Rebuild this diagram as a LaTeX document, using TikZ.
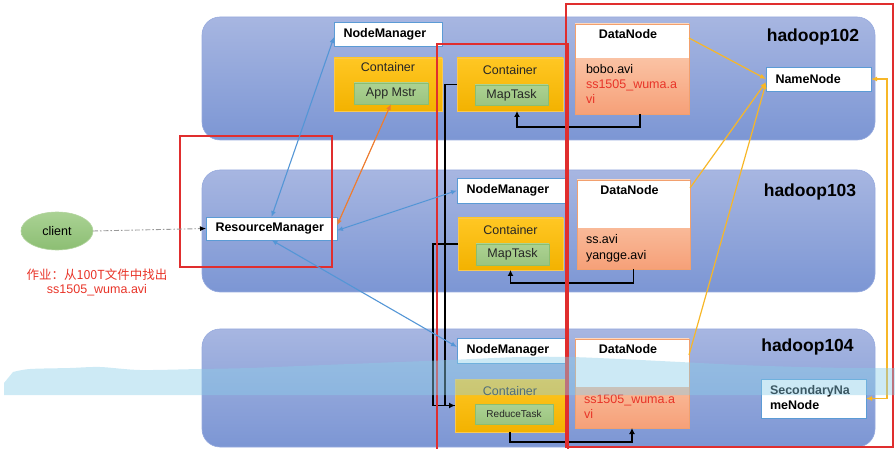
\documentclass[tikz,border=0pt]{standalone}
\usepackage{fontspec}
\setmainfont{Liberation Sans}
\newfontfamily\cjkfont{Noto Sans CJK SC}
\usetikzlibrary{arrows.meta,calc,shapes.geometric}

\definecolor{hostTop}{RGB}{167,182,225}
\definecolor{hostBot}{RGB}{124,150,212}
\definecolor{hostEdge}{RGB}{150,170,222}
\definecolor{boxBlue}{RGB}{91,155,213}
\definecolor{ctTop}{RGB}{255,199,35}
\definecolor{ctBot}{RGB}{243,178,0}
\definecolor{ctEdge}{RGB}{250,200,80}
\definecolor{taskTop}{RGB}{172,210,146}
\definecolor{taskBot}{RGB}{155,196,128}
\definecolor{taskEdge}{RGB}{140,190,110}
\definecolor{dnTop}{RGB}{253,215,190}
\definecolor{dnBot}{RGB}{246,160,120}
\definecolor{dnEdge}{RGB}{242,160,110}
\definecolor{fileRed}{RGB}{232,52,40}
\definecolor{frameRed}{RGB}{224,46,46}
\definecolor{linkBlue}{RGB}{84,150,214}
\definecolor{linkOrange}{RGB}{237,125,49}
\definecolor{linkYellow}{RGB}{247,183,40}
\definecolor{cliTop}{RGB}{170,210,148}
\definecolor{cliBot}{RGB}{140,190,115}
\definecolor{cliEdge}{RGB}{178,212,158}
\definecolor{haze}{RGB}{139,206,232}

\begin{document}
\begin{tikzpicture}[x=1pt,y=-1pt,
  every node/.style={inner sep=0pt, outer sep=0pt},
  txt/.style={font=\fontsize{12.5}{15}\selectfont},
  boldtxt/.style={font=\bfseries\fontsize{12.5}{15}\selectfont},
  hostbox/.style={rounded corners=18pt, top color=hostTop, bottom color=hostBot, draw=hostEdge, line width=0.6pt},
  hostname/.style={font=\bfseries\fontsize{17.5}{20}\selectfont, anchor=base},
  svcbox/.style={draw=boxBlue, fill=white, line width=0.8pt, boldtxt, align=left, inner xsep=9.5pt},
  ctbox/.style={draw=ctEdge, top color=ctTop, bottom color=ctBot, line width=0.6pt},
  cttext/.style={txt, text=black!85},
  taskbox/.style={draw=taskEdge, top color=taskTop, bottom color=taskBot, line width=0.6pt, txt, text=black!85},
  dnbox/.style={top color=dnTop, bottom color=dnBot},
  dnedge/.style={draw=dnEdge, line width=0.8pt},
  filelist/.style={txt, anchor=base west, align=left},
  redframe/.style={draw=frameRed, line width=1.6pt},
  blu/.style={draw=linkBlue, line width=1.1pt, {Latex[length=6pt,width=5pt]}-{Latex[length=6pt,width=5pt]}},
  org/.style={draw=linkOrange, line width=1.2pt, {Latex[length=6pt,width=5pt]}-{Latex[length=6pt,width=5pt]}},
  yel/.style={draw=linkYellow, line width=1.2pt, -{Latex[length=6pt,width=5pt]}},
  blk/.style={draw=black, line width=1.3pt},
  blkarrow/.style={blk, -{Latex[length=6pt,width=6pt]}},
  dashdot/.style={draw=black!40, line width=0.9pt, dash pattern=on 5pt off 2pt on 1.5pt off 2pt,
    -{Latex[length=6pt,width=5pt,color=black]}}
]
\useasboundingbox (0,0) rectangle (895,449);

% hosts
\node[hostbox, minimum width=673pt, minimum height=123pt] (h102) at (538.5,78.5) {};
\node[hostbox, minimum width=673pt, minimum height=122pt] (h103) at (538.5,231) {};
\node[hostbox, minimum width=673pt, minimum height=118pt] (h104) at (538.5,388) {};
\node[hostname] (h102n) at (813,42) {hadoop102};
\node[hostname] (h103n) at (810,197) {hadoop103};
\node[hostname] (h104n) at (807.5,352) {hadoop104};

% hadoop102
\node[svcbox, text width=89pt, minimum height=24pt] (nm102) at (388,34) {NodeManager};
\node[ctbox, minimum width=108pt, minimum height=53pt] (ct102a) at (388,84.5) {};
\node[cttext] (ct102at) at ([yshift=-9pt]ct102a.north) {Container};
\node[taskbox, minimum width=74pt, minimum height=21pt] (am) at (391,93.5) {App Mstr};

\node[ctbox, minimum width=106pt, minimum height=53pt] (ct102b) at (510,84.5) {};
\node[cttext] (ct102bt) at ([yshift=-12pt]ct102b.north) {Container};
\node[taskbox, minimum width=73pt, minimum height=20pt] (mt102) at (511.5,95) {MapTask};

\node[dnbox, minimum width=114pt, minimum height=90pt] (dn102) at (632,69) {};
\fill[white] (dn102.north west) rectangle ([yshift=-34pt]dn102.north east);
\draw[dnedge] (dn102.north west) rectangle (dn102.south east);
\node[boldtxt] (dn102t) at ([xshift=-4pt,yshift=-10.5pt]dn102.north) {DataNode};
% a multi-line node sits on the baseline of its last line
\node[filelist] (dn102f) at (586,104) {bobo.avi\\\textcolor{fileRed}{ss1505\_wuma.a}\\\textcolor{fileRed}{vi}};

\node[svcbox, text width=86pt, minimum height=24pt] (nn) at (818.5,79) {NameNode};

% hadoop103
\node[svcbox, text width=90pt, minimum height=25pt] (nm103) at (511.5,190.5) {NodeManager};
\node[ctbox, minimum width=105pt, minimum height=52pt] (ct103) at (510.5,244) {};
\node[cttext] (ct103t) at ([yshift=-12pt]ct103.north) {Container};
\node[taskbox, minimum width=73pt, minimum height=21pt] (mt103) at (512.5,254.5) {MapTask};

\node[dnbox, minimum width=113pt, minimum height=89pt] (dn103) at (633.5,224.5) {};
\fill[white] (dn103.north west) rectangle ([yshift=-48pt]dn103.north east);
\draw[dnedge] (dn103.north west) rectangle (dn103.south east);
\node[boldtxt] (dn103t) at ([xshift=-4pt,yshift=-10pt]dn103.north) {DataNode};
\node[filelist] (dn103f) at (586,260) {ss.avi\\[1pt]yangge.avi};

% hadoop104
\node[svcbox, text width=90pt, minimum height=25pt] (nm104) at (511.5,350.5) {NodeManager};
\node[ctbox, minimum width=110pt, minimum height=53pt] (ct104) at (510,405.5) {};
\node[cttext] (ct104t) at ([yshift=-12pt]ct104.north) {Container};
\node[taskbox, minimum width=78pt, minimum height=20pt, font=\fontsize{10}{12}\selectfont] (rt) at (514,414) {ReduceTask};

\node[dnbox, minimum width=114pt, minimum height=89pt] (dn104) at (632,383.5) {};
\fill[white] (dn104.north west) rectangle ([yshift=-48pt]dn104.north east);
\draw[dnedge] (dn104.north west) rectangle (dn104.south east);
\node[boldtxt] (dn104t) at ([xshift=-4pt,yshift=-10.5pt]dn104.north) {DataNode};
\node[filelist, text=fileRed] (dn104f) at (584,418.5) {ss1505\_wuma.a\\vi};

\node[draw=boxBlue, fill=white, line width=0.8pt, minimum width=105pt, minimum height=39pt] (snn) at (813.5,398.5) {};
\node[anchor=base west, align=left, font=\bfseries\fontsize{12.5}{14.5}\selectfont] (snnt) at (770,409) {SecondaryNa\\meNode};

% client side
\node[ellipse, draw=cliEdge, line width=0.6pt, top color=cliTop, bottom color=cliBot,
  minimum width=72pt, minimum height=38pt, txt] (cli) at (57,231) {client};
\node[svcbox, text width=112pt, minimum height=23pt] (rm) at (271.5,228.5) {ResourceManager};
\node[txt, text=fileRed] (hw1) at (97,275) {\cjkfont 作业：从100T文件中找出};
\node[txt, text=fileRed] (hw2) at (97,290) {ss1505\_wuma.avi};

% data flow between tasks
\draw[blkarrow] ([xshift=8pt]dn102.south) -- ++(0,13) -| ([xshift=7pt]ct102b.south);
\draw[blkarrow] (dn103.south) -- ++(0,14) -| (ct103.south);
\draw[blkarrow] (ct104.south) -- ++(0,10) -| (dn104.south);
\draw[blk] (ct102b.west) -- ++(-12,0) |- (ct104.west);
\draw[blkarrow] (ct103.west) -- ++(-25,0) |- (ct104.west);

% highlight frames
\draw[redframe] (180,136) rectangle (332,267);
\draw[redframe] (437,44) rectangle (568,456);
\draw[redframe] (566,4) rectangle (893,447);

% YARN links
\draw[dashdot] (cli.east) -- (rm.west);
\draw[blu] ([yshift=-3pt]nm102.west) -- (rm.north);
\draw[org] (am.south) -- ([yshift=3pt]rm.east);
\draw[blu] (nm103.west) -- ([yshift=-2pt]rm.east);
\draw[blu] ([yshift=3.5pt]nm104.west) -- (rm.south);

% HDFS links
\draw[yel] ([yshift=-14pt]dn102.north east) -- (nn.west);
\draw[yel] ([yshift=-8pt]dn103.north east) -- ([yshift=-3pt]nn.west);
\draw[yel] ([yshift=-16pt]dn104.north east) -- ([yshift=-4pt]nn.west);
\draw[yel, {Latex[length=6pt,width=5pt]}-{Latex[length=6pt,width=5pt]}] (nn.east) -- ++(16,0) |- (snn.east);

% light haze band across the lower host
\fill[haze, opacity=0.43] (4,395) -- (4,383) -- plot[smooth] coordinates {(13,372) (30,369) (70,368) (100,367) (140,370) (200,369) (250,368) (300,366) (350,364) (400,362) (450,360) (520,357) (570,357) (620,359) (680,362) (740,365) (800,367) (850,368) (895,368)} -- (895,395) -- cycle;
\end{tikzpicture}
\end{document}
